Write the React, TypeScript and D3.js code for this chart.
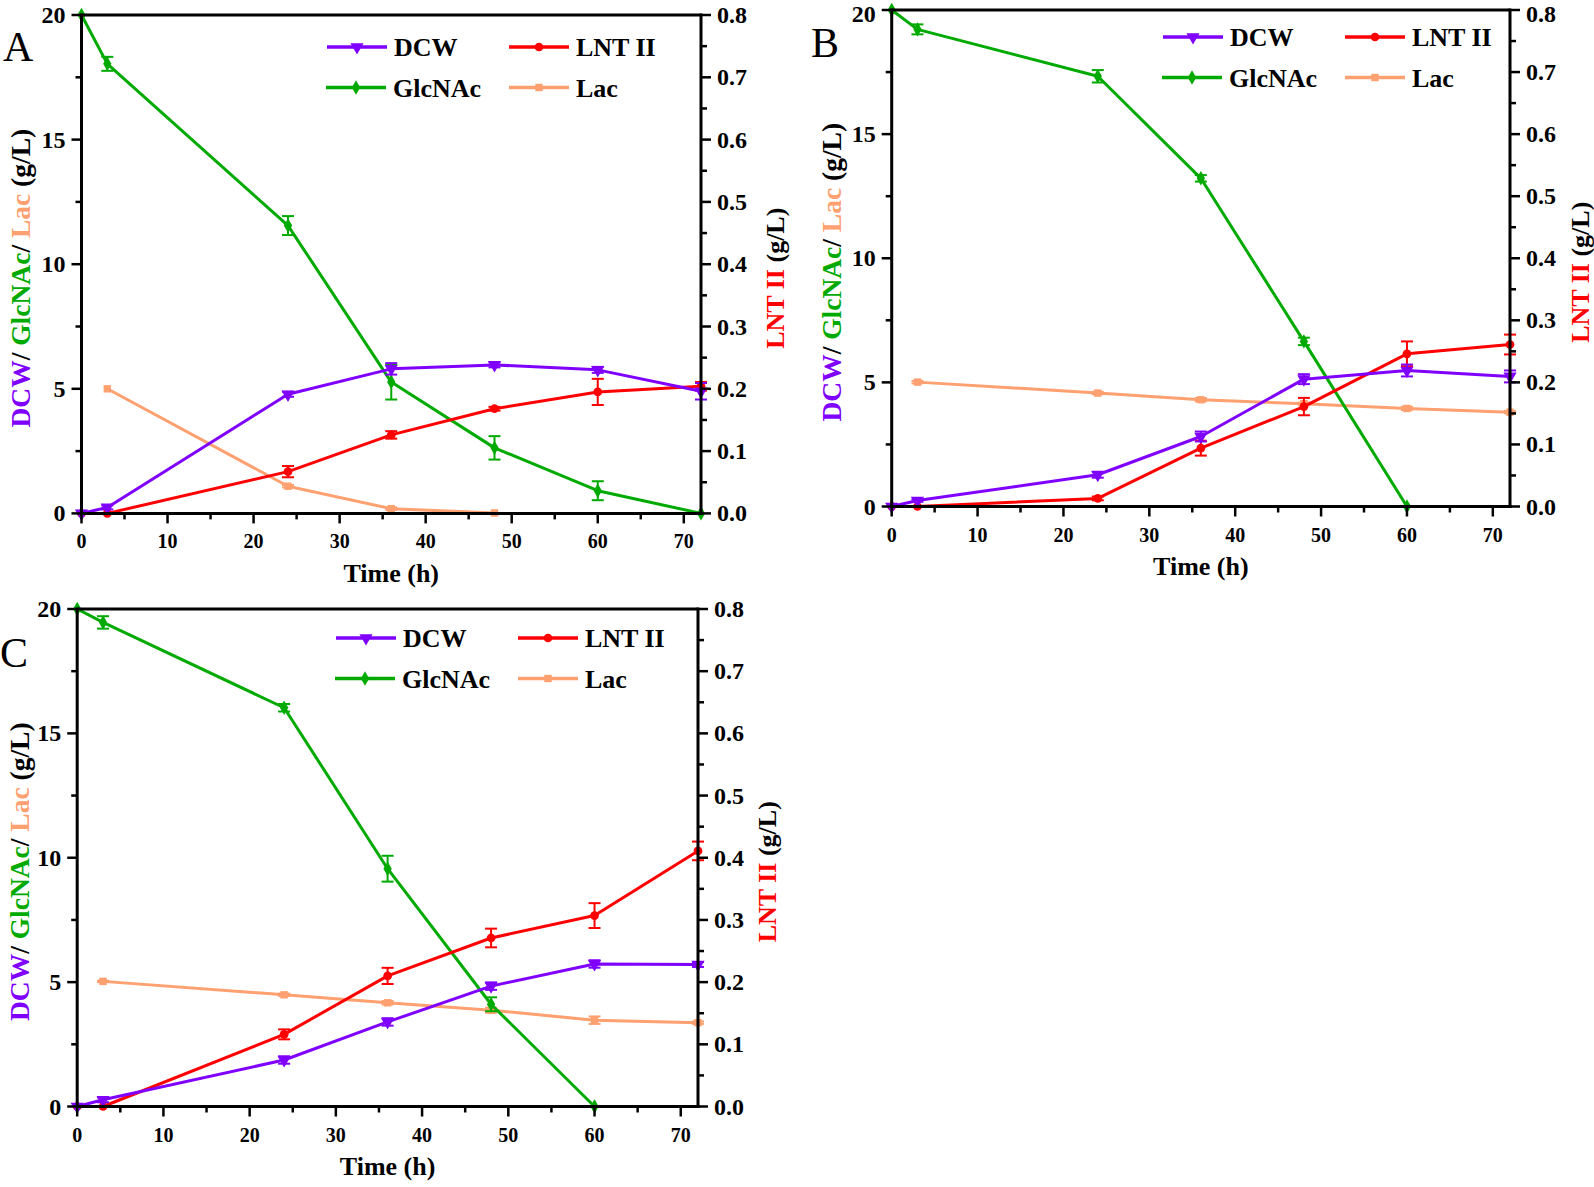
import React from 'react';
import * as d3 from 'd3';

// ---------- data ----------
const times = [0, 3, 24, 36, 48, 60, 72];
const glcTimesBC = [0, 3, 24, 36, 48, 60];
const lacTimesA = [3, 24, 36, 48];
const lacTimesBC = [3, 24, 36, 48, 60, 72];

const xMajorTicks = [0, 10, 20, 30, 40, 50, 60, 70];
const leftTicks = [0, 5, 10, 15, 20];
const rightTicks = [0, 0.1, 0.2, 0.3, 0.4, 0.5, 0.6, 0.7, 0.8];

// Panel A
const dcwA = [0, 0.24, 4.78, 5.8, 5.96, 5.76, 4.9];
const dcwErrA = [0, 0.08, 0.1, 0.23, 0.1, 0.12, 0.33];
const lntA = [0, 0, 0.067, 0.126, 0.168, 0.195, 0.204];
const lntErrA = [0, 0, 0.009, 0.006, 0.003, 0.021, 0.007];
const glcA = [20, 18.04, 11.55, 5.27, 2.63, 0.91, 0];
const glcErrA = [0, 0.28, 0.38, 0.7, 0.47, 0.38, 0];
const lacA = [5.0, 1.09, 0.19, 0.02];
const lacErrA = [0, 0.05, 0.05, 0];

// Panel B
const dcwB = [0, 0.24, 1.28, 2.82, 5.13, 5.48, 5.24];
const dcwErrB = [0, 0.05, 0.12, 0.2, 0.2, 0.24, 0.24];
const lntB = [0, 0, 0.013, 0.094, 0.161, 0.246, 0.261];
const lntErrB = [0, 0, 0.003, 0.012, 0.014, 0.02, 0.016];
const glcB = [20, 19.22, 17.33, 13.22, 6.65, 0];
const glcErrB = [0, 0.2, 0.25, 0.13, 0.15, 0];
const lacB = [5.01, 4.57, 4.3, 4.14, 3.95, 3.8];
const lacErrB = [0.05, 0.05, 0.07, 0.05, 0.07, 0.05];

// Panel C
const dcwC = [0, 0.27, 1.87, 3.4, 4.84, 5.73, 5.71];
const dcwErrC = [0, 0.1, 0.15, 0.15, 0.15, 0.15, 0.1];
const lntC = [0, 0, 0.116, 0.21, 0.271, 0.307, 0.411];
const lntErrC = [0, 0, 0.008, 0.013, 0.015, 0.02, 0.015];
const glcC = [20, 19.46, 16.03, 9.56, 4.11, 0];
const glcErrC = [0, 0.25, 0.15, 0.52, 0.28, 0];
const lacC = [5.03, 4.49, 4.17, 3.87, 3.47, 3.37];
const lacErrC = [0.03, 0.05, 0.07, 0.1, 0.15, 0.05];

// ---------- style ----------
const COL_DCW = '#8000FF';
const COL_LNT = '#FF0000';
const COL_GLC = '#00AA00';
const COL_LAC = '#FFA070';
const FONT = '"Liberation Serif", "Times New Roman", serif';

type Series = { t: number[]; v: number[]; e: number[]; color: string; shape: string; right?: boolean };

const symbolPath = (shape: string) => {
  const map: any = {
    tri: d3.symbol().type(d3.symbolTriangle).size(75),
    circle: d3.symbol().type(d3.symbolCircle).size(60),
    diamond: d3.symbol().type(d3.symbolDiamond).size(60),
    square: d3.symbol().type(d3.symbolSquare).size(55),
  };
  return map[shape]() as string;
};

const Marker = ({ shape, color, x, y }: any) => (
  <path d={symbolPath(shape)} fill={color} transform={`translate(${x},${y})${shape === 'tri' ? ' rotate(180)' : ''}`} />
);

const Panel = ({ cfg }: any) => {
  const { left, right, top, bottom, letter, letterX, letterY, lx, ly, leftTitleX, rightTitleX, series } = cfg;
  const x = d3.scaleLinear().domain([0, 72]).range([left, right]);
  const yL = d3.scaleLinear().domain([0, 20]).range([bottom, top]);
  const yR = d3.scaleLinear().domain([0, 0.8]).range([bottom, top]);
  const xMinor = d3.range(5, 71, 10);
  const leftMinor = d3.range(2.5, 20, 5);
  const rightMinor = d3.range(0.05, 0.8, 0.1);
  const midY = (top + bottom) / 2;

  const renderSeries = (s: Series, i: number) => {
    const y = s.right ? yR : yL;
    const line = d3.line<number>().x((_, k) => x(s.t[k])).y((d) => y(d));
    return (
      <g key={i}>
        <path d={line(s.v) as string} fill="none" stroke={s.color} strokeWidth={3} strokeLinejoin="round" />
        {s.v.map((v, k) =>
          s.e[k] > 0 ? (
            <g key={'e' + k} stroke={s.color} strokeWidth={2}>
              <line x1={x(s.t[k])} x2={x(s.t[k])} y1={y(v - s.e[k])} y2={y(v + s.e[k])} />
              <line x1={x(s.t[k]) - 6} x2={x(s.t[k]) + 6} y1={y(v - s.e[k])} y2={y(v - s.e[k])} />
              <line x1={x(s.t[k]) - 6} x2={x(s.t[k]) + 6} y1={y(v + s.e[k])} y2={y(v + s.e[k])} />
            </g>
          ) : null
        )}
        {s.v.map((v, k) => (
          <Marker key={'m' + k} shape={s.shape} color={s.color} x={x(s.t[k])} y={y(v)} />
        ))}
      </g>
    );
  };

  const legendItems = [
    { name: 'DCW', color: COL_DCW, shape: 'tri', dx: 0, dy: 0 },
    { name: 'LNT II', color: COL_LNT, shape: 'circle', dx: 182, dy: 0 },
    { name: 'GlcNAc', color: COL_GLC, shape: 'diamond', dx: -1, dy: 40.5 },
    { name: 'Lac', color: COL_LAC, shape: 'square', dx: 182, dy: 40.5 },
  ];

  const labelY = (py: number) => Math.max(py + 8, 22);

  return (
    <g fontFamily={FONT} fontWeight="bold">
      <text x={letterX} y={letterY} fontSize={42} fontWeight="normal">{letter}</text>
      {series.map(renderSeries)}
      {/* frame */}
      <g stroke="#000" strokeWidth={3} fill="none">
        <line x1={left} x2={right} y1={top} y2={top} />
        <line x1={left} x2={right + 1.5} y1={bottom} y2={bottom} />
        <line x1={left} x2={left} y1={top - 1.5} y2={bottom + 1.5} />
        <line x1={right} x2={right} y1={top - 1.5} y2={bottom + 1.5} />
      </g>
      {/* ticks */}
      <g stroke="#000" strokeWidth={2.5}>
        {xMajorTicks.map((t) => <line key={'xm' + t} x1={x(t)} x2={x(t)} y1={bottom} y2={bottom + 10} />)}
        {xMinor.map((t) => <line key={'xn' + t} x1={x(t)} x2={x(t)} y1={bottom} y2={bottom + 6} />)}
        {leftTicks.map((t) => <line key={'lm' + t} x1={left - 10} x2={left} y1={yL(t)} y2={yL(t)} />)}
        {leftMinor.map((t) => <line key={'ln' + t} x1={left - 6} x2={left} y1={yL(t)} y2={yL(t)} />)}
        {rightTicks.map((t) => <line key={'rm' + t} x1={right} x2={right + 10} y1={yR(t)} y2={yR(t)} />)}
        {rightMinor.map((t) => <line key={'rn' + t} x1={right} x2={right + 6} y1={yR(t)} y2={yR(t)} />)}
      </g>
      <g fontSize={20}>
        {xMajorTicks.map((t) => (
          <text key={'xl' + t} x={x(t)} y={bottom + 35} textAnchor="middle">{t}</text>
        ))}
      </g>
      <g fontSize={24}>
        {leftTicks.map((t) => (
          <text key={'ll' + t} x={left - 16} y={labelY(yL(t))} textAnchor="end">{t}</text>
        ))}
        {rightTicks.map((t) => (
          <text key={'rl' + t} x={right + 16} y={labelY(yR(t))} textAnchor="start">{d3.format('.1f')(t)}</text>
        ))}
      </g>
      <text x={(left + right) / 2} y={bottom + 68.5} fontSize={26} textAnchor="middle">Time (h)</text>
      <text transform={`translate(${leftTitleX},${midY + 14}) rotate(-90)`} fontSize={27.5} textAnchor="middle" dy="0.35em">
        <tspan fill={COL_DCW}>DCW</tspan>
        <tspan fill="#000">/ </tspan>
        <tspan fill={COL_GLC}>GlcNAc</tspan>
        <tspan fill="#000">/ </tspan>
        <tspan fill={COL_LAC}>Lac</tspan>
        <tspan fill="#000"> (g/L)</tspan>
      </text>
      <text transform={`translate(${rightTitleX},${midY + 14}) rotate(-90)`} fontSize={26} textAnchor="middle" dy="0.35em">
        <tspan fill={COL_LNT}>LNT II</tspan>
        <tspan fill="#000"> (g/L)</tspan>
      </text>
      {legendItems.map((it) => (
        <g key={it.name}>
          <line x1={lx + it.dx} x2={lx + it.dx + 60} y1={ly + it.dy} y2={ly + it.dy} stroke={it.color} strokeWidth={3.5} />
          <Marker shape={it.shape} color={it.color} x={lx + it.dx + 30} y={ly + it.dy} />
          <text x={lx + it.dx + 67} y={ly + it.dy + 9} fontSize={26}>{it.name}</text>
        </g>
      ))}
    </g>
  );
};

const mk = (dcw: number[], dcwE: number[], glcT: number[], glc: number[], glcE: number[], lacT: number[], lac: number[], lacE: number[], lnt: number[], lntE: number[]): Series[] => [
  { t: lacT, v: lac, e: lacE, color: COL_LAC, shape: 'square' },
  { t: glcT, v: glc, e: glcE, color: COL_GLC, shape: 'diamond' },
  { t: times, v: lnt, e: lntE, color: COL_LNT, shape: 'circle', right: true },
  { t: times, v: dcw, e: dcwE, color: COL_DCW, shape: 'tri' },
];

const panels = [
  {
    letter: 'A', letterX: 3, letterY: 61, left: 81.5, right: 701, top: 15, bottom: 513.4,
    lx: 327, ly: 47, leftTitleX: 20, rightTitleX: 775,
    series: mk(dcwA, dcwErrA, times, glcA, glcErrA, lacTimesA, lacA, lacErrA, lntA, lntErrA),
  },
  {
    letter: 'B', letterX: 811, letterY: 57, left: 891.7, right: 1510, top: 10, bottom: 506.5,
    lx: 1163, ly: 37, leftTitleX: 831, rightTitleX: 1580,
    series: mk(dcwB, dcwErrB, glcTimesBC, glcB, glcErrB, lacTimesBC, lacB, lacErrB, lntB, lntErrB),
  },
  {
    letter: 'C', letterX: 0, letterY: 667, left: 77.2, right: 698, top: 609, bottom: 1106.5,
    lx: 336, ly: 638, leftTitleX: 19, rightTitleX: 767,
    series: mk(dcwC, dcwErrC, glcTimesBC, glcC, glcErrC, lacTimesBC, lacC, lacErrC, lntC, lntErrC),
  },
];

export default function App() {
  return (
    <svg width={1594} height={1187} style={{ position: 'absolute', left: 0, top: 0, background: '#fff' }}>
      <rect x={0} y={0} width={1594} height={1187} fill="#fff" />
      {panels.map((p) => <Panel key={p.letter} cfg={p} />)}
    </svg>
  );
}
